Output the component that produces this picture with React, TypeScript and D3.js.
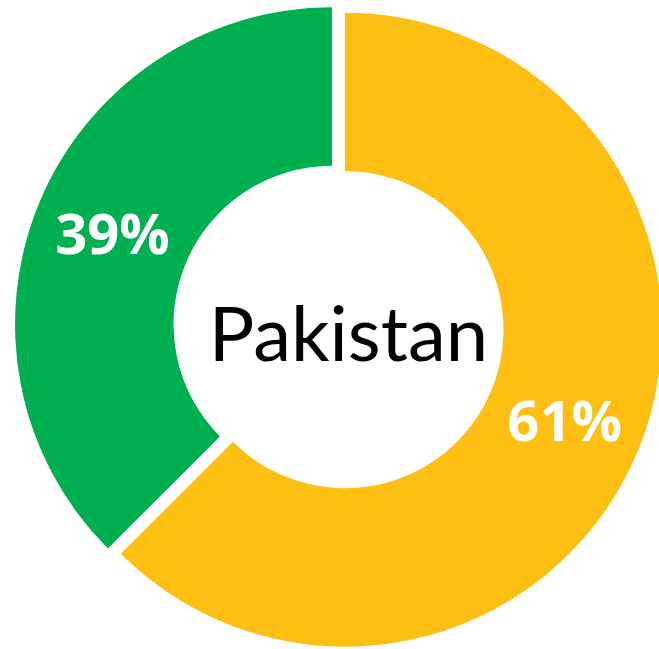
import React from "react";
import * as d3 from "d3";

const categories = ["Yes", "No"];
const values = [62.5, 37.5];
const labels = ["61%", "39%"];
const colors = ["#FCBF12", "#00B050"];
const centerLabel = "Pakistan";

const W = 659;
const H = 649;

export default function App() {
  const cx = 338.5;
  const cy = 327;
  const outerR = 317;
  const innerR = 158.5;
  const explode = 7;

  const pie = d3
    .pie<number>()
    .sort(null)
    .value((d) => d)
    .startAngle(0)
    .endAngle(2 * Math.PI);
  const arcs = pie(values);
  const arcGen = d3.arc<d3.PieArcDatum<number>>().innerRadius(innerR).outerRadius(outerR);

  return (
    <svg
      width={W}
      height={H}
      style={{ position: "absolute", left: 0, top: 0, display: "block" }}
    >
      <rect width={W} height={H} fill="#ffffff" />
      {arcs.map((a, i) => {
        const mid = (a.startAngle + a.endAngle) / 2;
        const ox = Math.sin(mid) * explode;
        const oy = -Math.cos(mid) * explode;
        const [lx, ly] = arcGen.centroid(a);
        return (
          <g key={categories[i]} transform={`translate(${cx + ox},${cy + oy})`}>
            <path d={arcGen(a) || ""} fill={colors[i]} />
            <text
              x={lx}
              y={ly}
              dy="0.36em"
              textAnchor="middle"
              fill="#ffffff"
              fontFamily="'Open Sans', sans-serif"
              fontWeight={700}
              fontSize={56}
            >
              {labels[i]}
            </text>
          </g>
        );
      })}
      <text
        x={348.5}
        y={361}
        textAnchor="middle"
        fill="#000000"
        fontFamily="Lato, sans-serif"
        fontWeight={400}
        fontSize={76}
      >
        {centerLabel}
      </text>
    </svg>
  );
}
